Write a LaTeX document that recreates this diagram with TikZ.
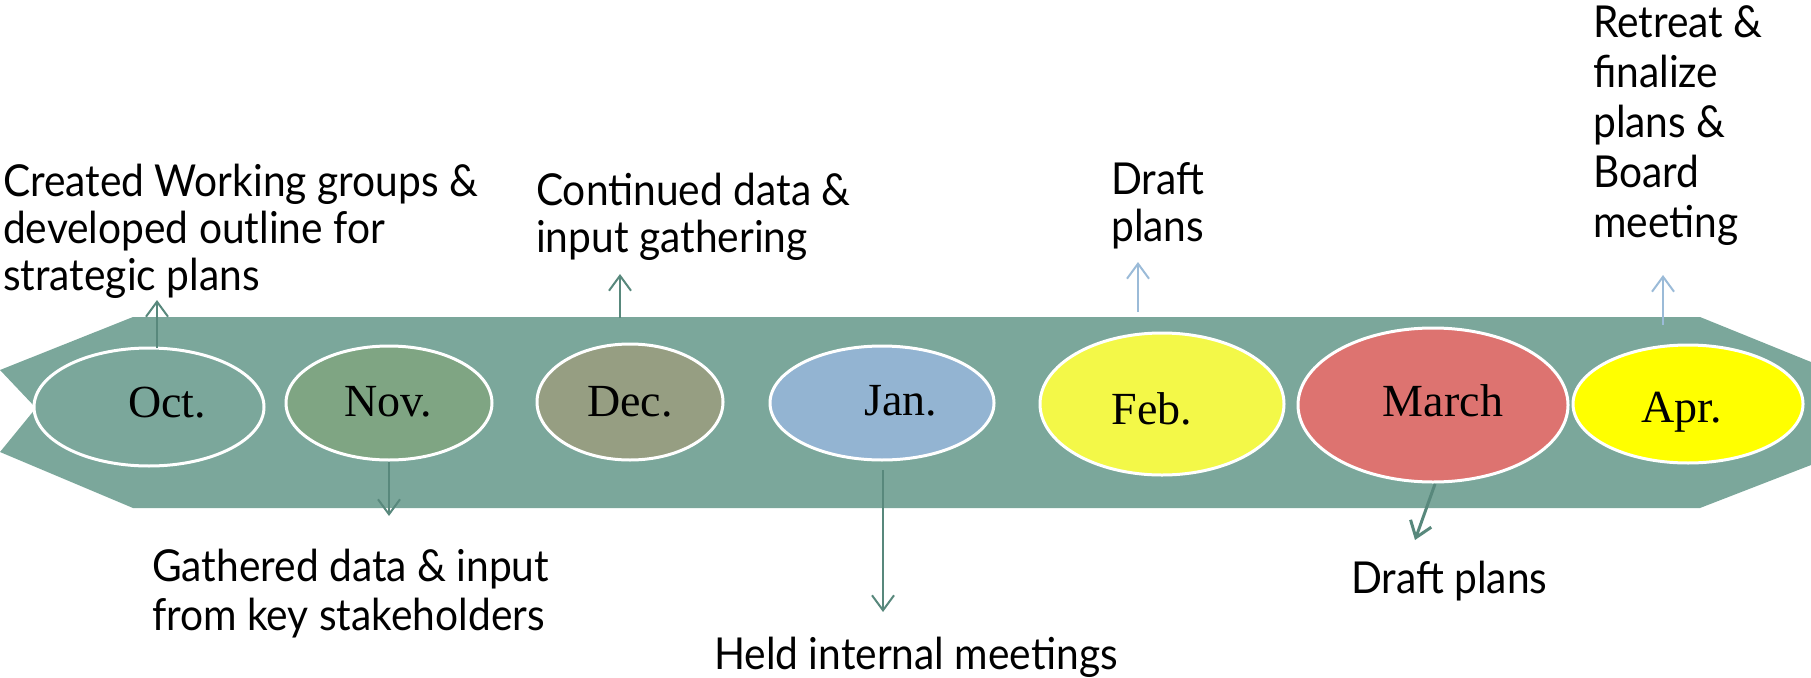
\documentclass[tikz,border=0pt]{standalone}
\usepackage{fontspec}
\setmainfont{Liberation Serif}
\newfontfamily\notefont[FakeStretch=0.925]{Lato}
\usetikzlibrary{shapes.geometric,arrows.meta}

\definecolor{bandteal}{RGB}{123,167,155}
\definecolor{arrowdark}{RGB}{88,136,124}
\definecolor{arrowlight}{RGB}{155,187,216}
\definecolor{novgreen}{RGB}{127,165,131}
\definecolor{deckhaki}{RGB}{150,158,130}
\definecolor{janblue}{RGB}{147,180,210}
\definecolor{febyellow}{RGB}{243,248,72}
\definecolor{marchred}{RGB}{221,115,112}
\definecolor{apryellow}{RGB}{255,255,0}

\begin{document}
\begin{tikzpicture}[x=1pt,y=-1pt,
  month/.style={ellipse, draw=white, line width=3pt, inner sep=0pt},
  mtext/.style={anchor=base, inner sep=0pt, font=\fontsize{46}{50}\selectfont},
  % multi-line notes: the base anchor sits on the last line
  note/.style={anchor=base west, align=left, inner sep=0pt,
    font=\notefont\fontsize{44}{47}\selectfont},
  darrow/.style={draw=arrowdark, line width=2pt,
    -{Straight Barb[length=15pt,width=22pt]}},
  larrow/.style={draw=arrowlight, line width=2pt,
    -{Straight Barb[length=15pt,width=22pt]}}]
\useasboundingbox (0,0) rectangle (1811,677);

% timeline band with notched tail and pointed head
\fill[bandteal] (133,317) -- (1700,317) -- (1811,362) -- (1811,465)
  -- (1700,508) -- (133,508) -- (0,452) -- (36,408) -- (0,370) -- cycle;

% months
\node[month, fill=bandteal,  minimum width=230pt, minimum height=118pt] (oct)   at (149,407)  {};
\node[month, fill=novgreen,  minimum width=206pt, minimum height=114pt] (nov)   at (389,403)  {};
\node[month, fill=deckhaki,  minimum width=186pt, minimum height=116pt] (dec)   at (630,402)  {};
\node[month, fill=janblue,   minimum width=224pt, minimum height=114pt] (jan)   at (882,403)  {};
\node[month, fill=febyellow, minimum width=244pt, minimum height=142pt] (feb)   at (1162,404) {};
\node[month, fill=marchred,  minimum width=270pt, minimum height=154pt] (march) at (1433,405) {};
\node[month, fill=apryellow, minimum width=230pt, minimum height=118pt] (apr)   at (1688,404) {};

\node[mtext] (octt)   at (167,417)  {Oct.};
\node[mtext] (novt)   at (388,416)  {Nov.};
\node[mtext] (dect)   at (630,416)  {Dec.};
\node[mtext] (jant)   at (901,415)  {Jan.};
\node[mtext] (febt)   at (1152,424) {Feb.};
\node[mtext] (marcht) at (1443,416) {March};
\node[mtext] (aprt)   at (1682,422) {Apr.};

% activity notes
\node[note] (n1) at (3,290)    {Created Working groups \&\\developed outline for\\strategic plans};
\node[note] (n2) at (536,252)  {Continued data \&\\input gathering};
\node[note] (n3) at (1111,241) {Draft\\plans};
\node[note, font=\notefont\fontsize{44}{50}\selectfont] (n4) at (1593,237) {Retreat \&\\finalize\\plans \&\\Board\\meeting};
\node[note, font=\notefont\fontsize{44}{49}\selectfont] (n5) at (152,630)  {Gathered data \& input\\from key stakeholders};
\node[note] (n6) at (714,669)  {Held internal meetings};
\node[note] (n7) at (1351,593) {Draft plans};

% connector ends
\coordinate (oct-up)   at (157,348);  \coordinate (n1-foot) at (157,300);
\coordinate (dec-up)   at (620,318);  \coordinate (n2-foot) at (620,274);
\coordinate (feb-up)   at (1138,312); \coordinate (n3-foot) at (1138,262);
\coordinate (apr-up)   at (1663,325); \coordinate (n4-foot) at (1663,275);
\coordinate (nov-down) at (389,462);  \coordinate (n5-head) at (389,516);
\coordinate (jan-down) at (883,470);  \coordinate (n6-head) at (883,612);
\coordinate (mar-down) at (1435,484); \coordinate (n7-head) at (1415,540);

\draw[darrow] (oct-up) -- (n1-foot);
\draw[darrow] (dec-up) -- (n2-foot);
\draw[larrow] (feb-up) -- (n3-foot);
\draw[larrow] (apr-up) -- (n4-foot);
\draw[darrow] (nov-down) -- (n5-head);
\draw[darrow] (jan-down) -- (n6-head);
\draw[darrow, line width=3pt] (mar-down) -- (n7-head);
\end{tikzpicture}
\end{document}
